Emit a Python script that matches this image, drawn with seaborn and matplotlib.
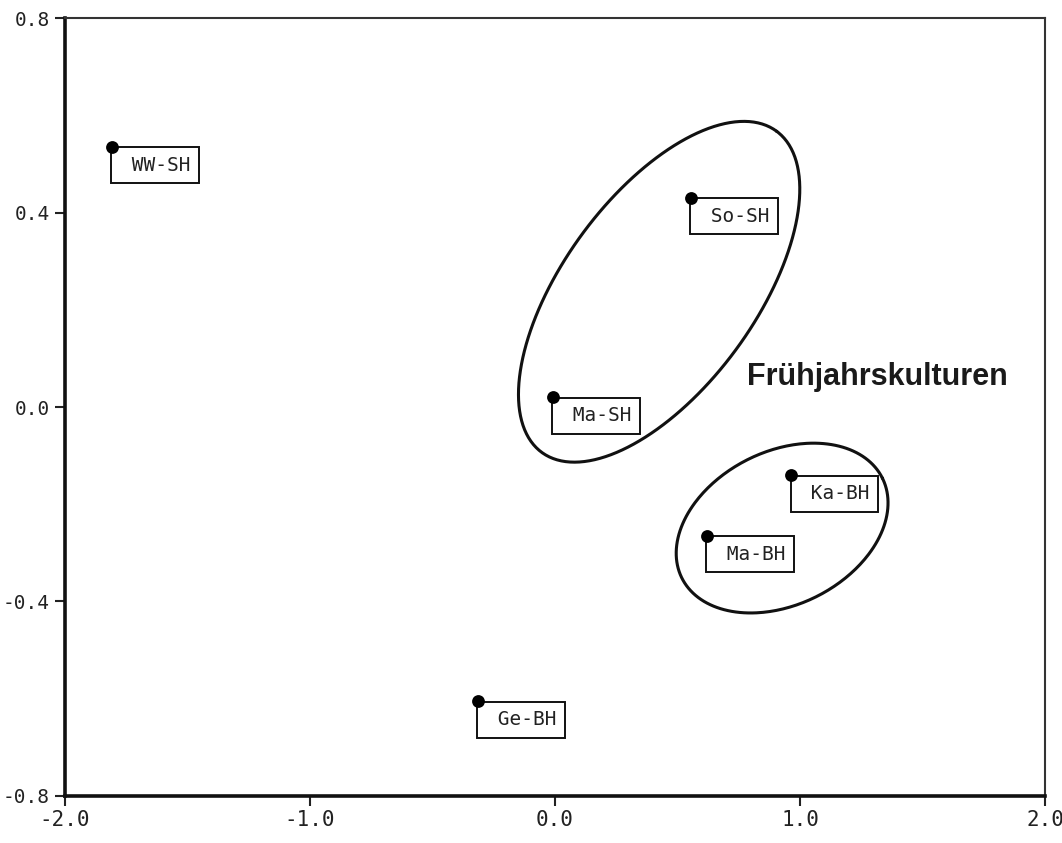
import numpy as np
import pandas as pd
import seaborn as sns
import matplotlib
matplotlib.use("Agg")
import matplotlib.pyplot as plt

# point data
labels = ["WW-SH", "So-SH", "Ma-SH", "Ka-BH", "Ma-BH", "Ge-BH"]
x_vals = [-1.81, 0.555, -0.01, 0.965, 0.62, -0.315]
y_vals = [0.535, 0.43, 0.02, -0.14, -0.265, -0.605]

# axis ticks
x_ticks = [-2.0, -1.0, 0.0, 1.0, 2.0]
y_ticks = [-0.8, -0.4, 0.0, 0.4, 0.8]

# group ellipses: center and two conjugate half-axis vectors (data units)
big_center = (0.425, 0.237)
big_u = (0.480, 0.330)
big_v = (-0.315, 0.118)
small_center = (0.927, -0.249)
small_u = (0.409, 0.103)
small_v = (-0.140, 0.141)

group_text = "Frühjahrskulturen"
group_pos = (0.785, 0.062)

df = pd.DataFrame({"x": x_vals, "y": y_vals, "label": labels})

sns.set_theme(style="ticks")
plt.rcParams["font.family"] = ["DejaVu Sans Mono", "DejaVu Sans"]

fig = plt.figure(figsize=(10.62, 8.43), dpi=100)
ax = fig.add_axes([0.0612, 0.0558, 0.9228, 0.9228])

sns.scatterplot(data=df, x="x", y="y", ax=ax, color="black", s=85,
                edgecolor="black", linewidth=0, zorder=5, legend=False)

for lab, xv, yv in zip(labels, x_vals, y_vals):
    ax.annotate(" " + lab, xy=(xv, yv), xytext=(8, -9), textcoords="offset pixels",
                ha="left", va="top", fontsize=14, family="DejaVu Sans Mono",
                color="#222222",
                bbox=dict(boxstyle="square,pad=0.44", fc="none", ec="#111111", lw=1.4),
                zorder=4)

t = np.linspace(0, 2 * np.pi, 300)
for c, u, v in [(big_center, big_u, big_v), (small_center, small_u, small_v)]:
    ex = c[0] + np.cos(t) * u[0] + np.sin(t) * v[0]
    ey = c[1] + np.cos(t) * u[1] + np.sin(t) * v[1]
    ax.plot(ex, ey, color="#111111", lw=2.2)

ax.text(group_pos[0], group_pos[1], group_text, fontsize=22, fontweight="bold",
        family="Liberation Sans", ha="left", va="center", color="#1a1a1a")

ax.set_xlim(-2.0, 2.0)
ax.set_ylim(-0.8, 0.8)
ax.set_xticks(x_ticks)
ax.set_yticks(y_ticks)
ax.set_xticklabels([f"{v:.1f}" for v in x_ticks])
ax.set_yticklabels([f"{v:.1f}" for v in y_ticks])
ax.set_xlabel("")
ax.set_ylabel("")
ax.tick_params(axis="x", direction="out", length=7, width=1.5,
               labelsize=15, colors="#222222", pad=3)
ax.tick_params(axis="y", direction="out", length=7, width=1.5,
               labelsize=14, colors="#222222", pad=4)

for side in ["left", "bottom"]:
    ax.spines[side].set_linewidth(2.6)
    ax.spines[side].set_color("#111111")
for side in ["top", "right"]:
    ax.spines[side].set_visible(True)
    ax.spines[side].set_linewidth(1.5)
    ax.spines[side].set_color("#333333")

fig.savefig("out.png", dpi=100)
